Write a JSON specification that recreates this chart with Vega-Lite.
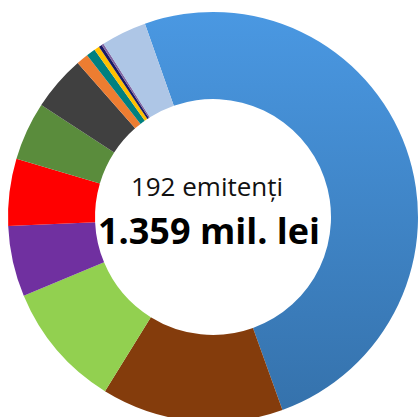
{
  "$schema": "https://vega.github.io/schema/vega-lite/v6.json",
  "width": 426,
  "height": 434,
  "padding": 0,
  "autosize": "none",
  "background": "white",
  "config": {"view": {"stroke": null}},
  "layer": [
    {
      "data": {
        "values": [
          {"k": 0, "name": "A", "v": 179.6},
          {"k": 1, "name": "B", "v": 51.6},
          {"k": 2, "name": "C", "v": 35.6},
          {"k": 3, "name": "D", "v": 20.1},
          {"k": 4, "name": "E", "v": 19.0},
          {"k": 5, "name": "F", "v": 16.6},
          {"k": 6, "name": "G", "v": 15.6},
          {"k": 7, "name": "H", "v": 3.4},
          {"k": 8, "name": "I", "v": 2.6},
          {"k": 9, "name": "J", "v": 1.5},
          {"k": 10, "name": "K", "v": 0.9},
          {"k": 11, "name": "L", "v": 0.6},
          {"k": 12, "name": "M", "v": 12.9}
        ]
      },
      "mark": {"type": "arc", "outerRadius": 205, "innerRadius": 118},
      "encoding": {
        "theta": {"field": "v", "type": "quantitative", "stack": true, "scale": {"range": [-0.3386, 5.9446]}},
        "order": {"field": "k", "type": "quantitative"},
        "color": {
          "condition": {
            "test": "datum.k === 0",
            "value": {
              "gradient": "linear", "x1": 0, "y1": 0, "x2": 0, "y2": 1,
              "stops": [{"offset": 0, "color": "#4A98E2"}, {"offset": 1, "color": "#3572AC"}]
            }
          },
          "field": "name",
          "type": "nominal",
          "scale": {
            "domain": ["A","B","C","D","E","F","G","H","I","J","K","L","M"],
            "range": ["#4290D8","#843C0C","#92D050","#7030A0","#FF0000","#5A8C3C","#404040","#ED7D31","#008080","#FFC000","#1A1A66","#8064A2","#AEC6E6"]
          },
          "legend": null
        }
      }
    },
    {
      "data": {"values": [{"t": "192 emitenți"}]},
      "mark": {"type": "text", "font": "Open Sans", "fontSize": 26, "baseline": "alphabetic", "align": "center", "dx": -6, "dy": -21, "color": "#111111"},
      "encoding": {"text": {"field": "t", "type": "nominal"}}
    },
    {
      "data": {"values": [{"t": "1.359 mil. lei"}]},
      "mark": {"type": "text", "font": "Open Sans", "fontSize": 36, "fontWeight": "bold", "baseline": "alphabetic", "align": "center", "dx": -4, "dy": 27, "color": "#000000"},
      "encoding": {"text": {"field": "t", "type": "nominal"}}
    }
  ]
}
